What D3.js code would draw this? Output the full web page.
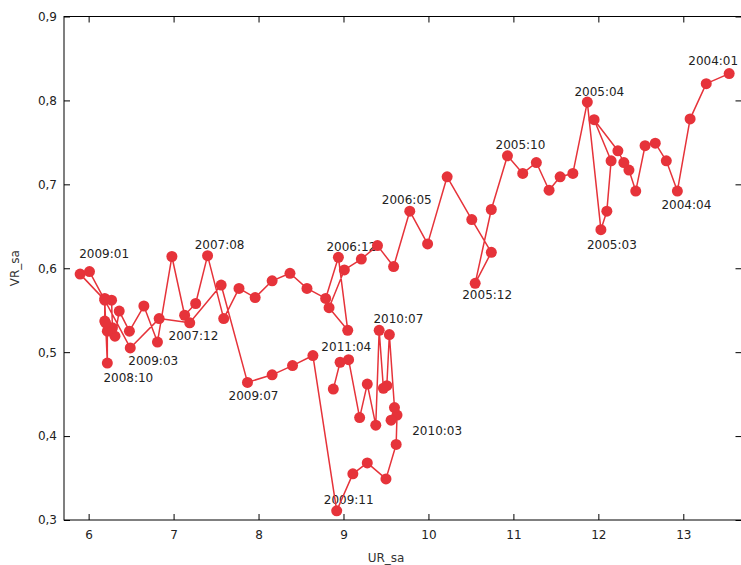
<!DOCTYPE html>
<html>
<head>
<meta charset="utf-8">
<script src="https://cdn.jsdelivr.net/npm/d3@7"></script>
<style>
  html, body { margin: 0; padding: 0; background: #fff; }
  svg { display: block; }
  .tick text { font-family: "DejaVu Sans", Verdana, sans-serif; font-size: 12px; fill: #222; }
  .ptlabel { font-family: "DejaVu Sans", Verdana, sans-serif; font-size: 12px; fill: #222; }
  .axtitle { font-family: "DejaVu Sans", Verdana, sans-serif; font-size: 12px; fill: #333; }
</style>
</head>
<body>
<svg id="chart" width="741" height="565"></svg>
<script>
// Monthly observations, 2004:01 - 2011:04
const periods = [
  "2004:01","2004:02","2004:03","2004:04","2004:05","2004:06","2004:07","2004:08","2004:09","2004:10","2004:11","2004:12",
  "2005:01","2005:02","2005:03","2005:04","2005:05","2005:06","2005:07","2005:08","2005:09","2005:10","2005:11","2005:12",
  "2006:01","2006:02","2006:03","2006:04","2006:05","2006:06","2006:07","2006:08","2006:09","2006:10","2006:11","2006:12",
  "2007:01","2007:02","2007:03","2007:04","2007:05","2007:06","2007:07","2007:08","2007:09","2007:10","2007:11","2007:12",
  "2008:01","2008:02","2008:03","2008:04","2008:05","2008:06","2008:07","2008:08","2008:09","2008:10","2008:11","2008:12",
  "2009:01","2009:02","2009:03","2009:04","2009:05","2009:06","2009:07","2009:08","2009:09","2009:10","2009:11","2009:12",
  "2010:01","2010:02","2010:03","2010:04","2010:05","2010:06","2010:07","2010:08","2010:09","2010:10","2010:11","2010:12",
  "2011:01","2011:02","2011:03","2011:04"
];

// Unemployment rate, seasonally adjusted
const urSa = [
  13.54, 13.27, 13.08, 12.93, 12.80, 12.67, 12.55, 12.44, 12.36, 12.30, 12.23, 11.95,
  12.15, 12.10, 12.03, 11.87, 11.70, 11.55, 11.42, 11.27, 11.11, 10.93, 10.74, 10.55,
  10.74, 10.51, 10.22,  9.99,  9.78,  9.59,  9.40,  9.21,  9.01,  8.83,  9.05,  8.94,
   8.79,  8.57,  8.37,  8.16,  7.96,  7.77,  7.59,  7.40,  7.26,  7.13,  6.98,  6.81,
   6.65,  6.48,  6.36,  6.31,  6.28,  6.27,  6.19,  6.19,  6.22,  6.22,  6.20,  6.19,
   5.90,  6.01,  6.49,  6.83,  7.19,  7.56,  7.87,  8.16,  8.40,  8.64,  8.92,  9.11,
   9.28,  9.50,  9.62,  9.63,  9.56,  9.60,  9.54,  9.51,  9.47,  9.42,  9.38,  9.28,
   9.19,  9.06,  8.96,  8.88
];

// Vacancy rate, seasonally adjusted
const vrSa = [
  0.832, 0.820, 0.778, 0.692, 0.728, 0.749, 0.746, 0.692, 0.717, 0.726, 0.740, 0.777,
  0.728, 0.668, 0.646, 0.798, 0.713, 0.709, 0.693, 0.726, 0.713, 0.734, 0.670, 0.582,
  0.619, 0.658, 0.709, 0.629, 0.668, 0.602, 0.627, 0.611, 0.598, 0.553, 0.526, 0.613,
  0.564, 0.576, 0.594, 0.585, 0.565, 0.576, 0.540, 0.615, 0.558, 0.544, 0.614, 0.512,
  0.555, 0.525, 0.549, 0.519, 0.529, 0.562, 0.564, 0.537, 0.525, 0.487, 0.535, 0.562,
  0.593, 0.596, 0.505, 0.540, 0.535, 0.580, 0.464, 0.473, 0.484, 0.496, 0.311, 0.355,
  0.368, 0.349, 0.390, 0.425, 0.419, 0.434, 0.521, 0.460, 0.457, 0.526, 0.413, 0.462,
  0.422, 0.491, 0.488, 0.456
];

const xTicks = [6, 7, 8, 9, 10, 11, 12, 13];
const yTicks = [0.3, 0.4, 0.5, 0.6, 0.7, 0.8, 0.9];

// Observations that carry a date label
const labelledPeriods = [
  "2004:01", "2004:04", "2005:03", "2005:04", "2005:10", "2005:12", "2006:05", "2006:12",
  "2007:08", "2007:12", "2008:10", "2009:01", "2009:03", "2009:07", "2009:11", "2010:03",
  "2010:07", "2011:04"
];

// Label placement (pixel offset of the label centre from its marker)
const labelOffset = {
  "2004:01": [-16, -13], "2004:04": [9, 14],  "2005:03": [11, 15],  "2005:04": [12, -10],
  "2005:10": [13, -11],  "2005:12": [12, 12], "2006:05": [-3, -11], "2006:12": [13, -10],
  "2007:08": [12, -11],  "2007:12": [36, -6], "2008:10": [21, 15],  "2009:01": [24, -20],
  "2009:03": [23, 13],   "2009:07": [6, 14],  "2009:11": [12, -11], "2010:03": [41, -13],
  "2010:07": [9, -16],   "2011:04": [13, -42]
};

const RED = "#e6333a";
const svg = d3.select("#chart");
const padL = 64, padR = 741.5, padT = 16.5, padB = 520;

const x = d3.scaleLinear().domain([5.71, 13.685]).range([padL, padR]);
const y = d3.scaleLinear().domain([0.3, 0.9]).range([padB, padT]);

const fmtY = v => d3.format(".1f")(v).replace(".", ",");

// Frame with inward ticks on all four sides
const gx = svg.append("g").attr("transform", `translate(0,${padB})`)
  .call(d3.axisBottom(x).tickValues(xTicks).tickSize(-6).tickSizeOuter(0).tickPadding(10).tickFormat(d3.format("d")));
const gy = svg.append("g").attr("transform", `translate(${padL},0)`)
  .call(d3.axisLeft(y).tickValues(yTicks).tickSize(-6).tickSizeOuter(0).tickPadding(7).tickFormat(fmtY));
const gt = svg.append("g").attr("transform", `translate(0,${padT})`)
  .call(d3.axisTop(x).tickValues(xTicks).tickSize(-6).tickSizeOuter(0).tickFormat(""));
const gr = svg.append("g").attr("transform", `translate(${padR},0)`)
  .call(d3.axisRight(y).tickValues(yTicks).tickSize(-6).tickSizeOuter(0).tickFormat(""));

[gx, gy, gt, gr].forEach(g => {
  g.select(".domain").remove();
  g.selectAll(".tick line").attr("stroke", "#000").attr("stroke-width", 1);
});
gx.selectAll(".tick text").attr("dy", "0.71em");

svg.append("rect")
  .attr("x", padL).attr("y", padT)
  .attr("width", padR - padL).attr("height", padB - padT)
  .attr("fill", "none").attr("stroke", "#000").attr("stroke-width", 1);

// Axis titles
svg.append("text").attr("class", "axtitle")
  .attr("x", 386).attr("y", 558)
  .attr("text-anchor", "middle").attr("dominant-baseline", "middle")
  .text("UR_sa");
svg.append("text").attr("class", "axtitle")
  .attr("transform", `translate(15,${(padT + padB) / 2}) rotate(-90)`)
  .attr("text-anchor", "middle").attr("dominant-baseline", "middle")
  .text("VR_sa");

const data = periods.map((p, i) => ({ p, ur: urSa[i], vr: vrSa[i] }));
const byPeriod = new Map(data.map(d => [d.p, d]));

// Date labels
svg.append("g").selectAll("text")
  .data(labelledPeriods)
  .join("text")
  .attr("class", "ptlabel")
  .attr("x", p => x(byPeriod.get(p).ur) + labelOffset[p][0])
  .attr("y", p => y(byPeriod.get(p).vr) + labelOffset[p][1])
  .attr("text-anchor", "middle")
  .attr("dominant-baseline", "central")
  .text(p => p);

// Connecting path in time order
svg.append("path")
  .datum(data)
  .attr("fill", "none")
  .attr("stroke", RED)
  .attr("stroke-width", 1.5)
  .attr("stroke-linejoin", "round")
  .attr("d", d3.line().x(d => x(d.ur)).y(d => y(d.vr)));

// Markers
svg.append("g").selectAll("circle")
  .data(data)
  .join("circle")
  .attr("cx", d => x(d.ur))
  .attr("cy", d => y(d.vr))
  .attr("r", 5.5)
  .attr("fill", RED);
</script>
</body>
</html>
